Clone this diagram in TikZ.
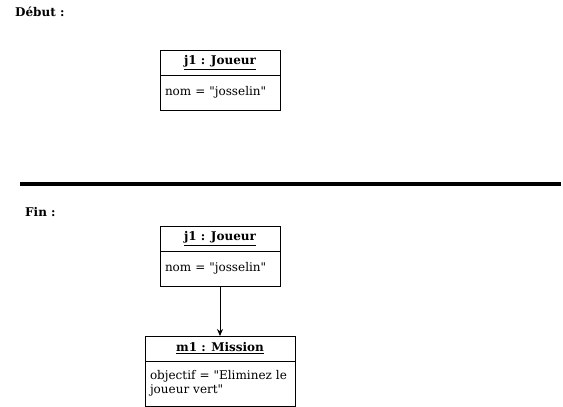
\documentclass[tikz,border=0pt]{standalone}
\usepackage{fontspec}
\setmainfont{DejaVu Serif}[Ligatures=TeXOff]
\usetikzlibrary{arrows.meta}
\tikzset{
  titre/.style={draw, line width=0.8pt, minimum width=120pt, minimum height=25pt, inner sep=0pt, outer sep=0pt, font=\fontsize{12}{14}\selectfont\bfseries},
  corps/.style={draw, line width=0.8pt, anchor=north, minimum height=35pt, text width=110pt, inner xsep=5pt, inner ysep=0pt, outer sep=0pt, align=left, font=\fontsize{12}{14}\selectfont},
  etiquette/.style={anchor=west, inner sep=0pt, font=\fontsize{12}{14}\selectfont\bfseries}
}
\begin{document}
\begin{tikzpicture}[x=1pt,y=-1pt]
\useasboundingbox (0,0) rectangle (563,407);
\path (15,12) node[etiquette](Debut){Début :} (25,212) node[etiquette](Fin){Fin :};
\path (220,62.5) node[titre](j1avant){\underline{j1 : Joueur}} (j1avant.south) node[corps](j1avantattr){nom = "josselin"};
\path (220,238.5) node[titre](j1apres){\underline{j1 : Joueur}} (j1apres.south) node[corps](j1apresattr){nom = "josselin"};
\path (220,348.5) node[titre, minimum width=150pt](m1){\underline{m1 : Mission}} (m1.south) node[corps, minimum height=45pt, text width=140pt](m1attr){objectif = "Eliminez le\\joueur vert"};

\draw[line width=4.5pt] (20,184) -- (561,184);
\draw[-{Stealth[length=7pt,width=6pt]}, line width=0.8pt] (j1apresattr) -- (m1);
\end{tikzpicture}
\end{document}
